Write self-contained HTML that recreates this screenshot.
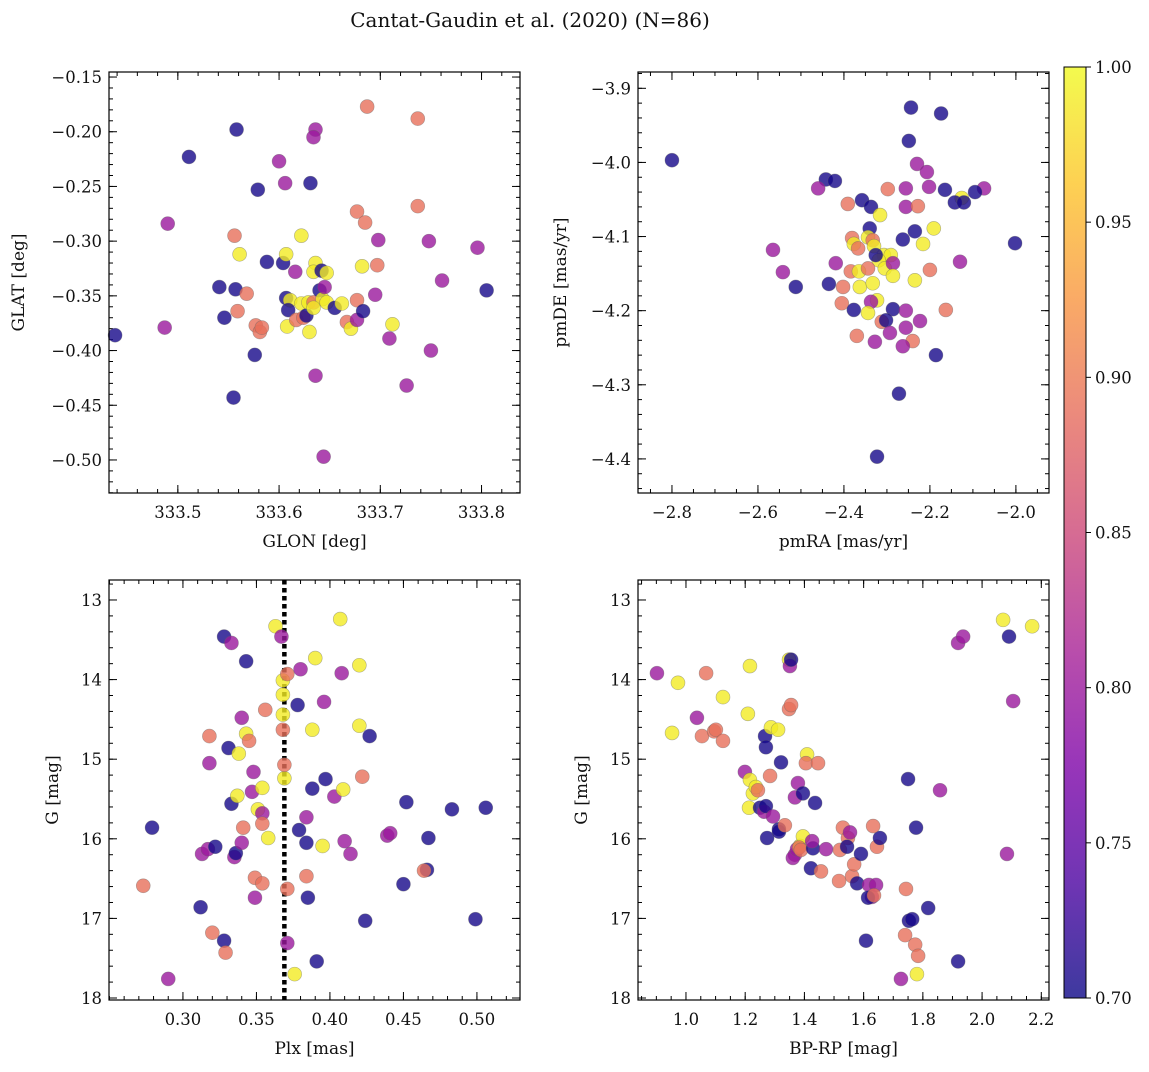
<!DOCTYPE html>
<html><head><meta charset="utf-8"><style>
html,body{margin:0;padding:0;background:#fff}
svg text{font-family:"DejaVu Serif","Liberation Serif",serif;fill:#111}
</style></head><body>
<svg id="fig" width="1149" height="1067" viewBox="0 0 1149 1067" xmlns="http://www.w3.org/2000/svg">
<defs>
<linearGradient id="plasma" x1="0" y1="1" x2="0" y2="0">
<stop offset="0" stop-color="#0d0887"/><stop offset="0.125" stop-color="#4c02a1"/><stop offset="0.25" stop-color="#7e03a8"/><stop offset="0.375" stop-color="#a82296"/><stop offset="0.5" stop-color="#cc4778"/><stop offset="0.625" stop-color="#e66c5c"/><stop offset="0.75" stop-color="#f89540"/><stop offset="0.875" stop-color="#fdc527"/><stop offset="1" stop-color="#f0f921"/>
</linearGradient>
</defs>
<text x="530" y="27" text-anchor="middle" font-size="20">Cantat-Gaudin et al. (2020) (N=86)</text>
</svg>
<script>
const D=0.705,P=0.80,S=0.89,Y=0.99;
const p1glon=[333.511,333.558,333.490,333.579,333.600,333.606,333.636,333.634,333.631,333.687,333.737,333.677,333.737,333.685,333.698,333.748,333.796,333.761,333.805,333.438,333.487,333.541,333.546,333.557,333.556,333.561,333.568,333.559,333.588,333.576,333.577,333.581,333.583,333.555,333.604,333.607,333.616,333.622,333.607,333.611,333.609,333.608,333.617,333.622,333.624,333.627,333.629,333.630,333.634,333.636,333.634,333.642,333.647,333.640,333.643,333.645,333.647,333.634,333.655,333.662,333.667,333.671,333.677,333.677,333.683,333.636,333.644,333.682,333.697,333.695,333.709,333.712,333.726,333.750];
const p1glat=[-0.223,-0.198,-0.284,-0.253,-0.227,-0.247,-0.198,-0.205,-0.247,-0.177,-0.188,-0.273,-0.268,-0.283,-0.299,-0.300,-0.306,-0.336,-0.345,-0.386,-0.379,-0.342,-0.370,-0.344,-0.295,-0.312,-0.348,-0.364,-0.319,-0.404,-0.377,-0.383,-0.379,-0.443,-0.320,-0.312,-0.328,-0.295,-0.352,-0.354,-0.363,-0.378,-0.372,-0.357,-0.370,-0.368,-0.356,-0.383,-0.356,-0.320,-0.328,-0.327,-0.329,-0.345,-0.353,-0.342,-0.356,-0.361,-0.361,-0.357,-0.374,-0.380,-0.372,-0.354,-0.364,-0.423,-0.497,-0.323,-0.322,-0.349,-0.389,-0.376,-0.432,-0.400];
const p1prob=[D,D,P,D,P,P,P,P,D,S,S,S,S,S,P,P,P,P,D,D,P,D,D,D,S,Y,S,S,D,D,S,S,S,D,D,Y,P,Y,D,Y,D,Y,S,Y,S,D,Y,Y,S,Y,Y,D,Y,D,Y,P,Y,Y,D,Y,S,Y,P,S,D,P,P,Y,S,P,P,Y,P,P];

const p2pmra=[-2.800,-2.244,-2.174,-2.249,-2.442,-2.421,-2.460,-2.230,-2.207,-2.256,-2.202,-2.074,-2.165,-2.095,-2.126,-2.142,-2.121,-2.358,-2.337,-2.298,-2.391,-2.256,-2.228,-2.316,-2.340,-2.235,-2.191,-2.263,-2.216,-2.002,-2.565,-2.381,-2.377,-2.367,-2.344,-2.333,-2.330,-2.307,-2.291,-2.319,-2.305,-2.286,-2.326,-2.419,-2.130,-2.542,-2.384,-2.365,-2.344,-2.286,-2.200,-2.512,-2.435,-2.402,-2.363,-2.333,-2.235,-2.323,-2.405,-2.337,-2.286,-2.377,-2.344,-2.256,-2.163,-2.312,-2.302,-2.223,-2.256,-2.293,-2.370,-2.240,-2.328,-2.263,-2.186,-2.272,-2.323];
const p2pmde=[-3.997,-3.926,-3.934,-3.971,-4.023,-4.025,-4.035,-4.002,-4.013,-4.035,-4.033,-4.035,-4.037,-4.040,-4.048,-4.054,-4.054,-4.051,-4.060,-4.036,-4.056,-4.060,-4.059,-4.071,-4.089,-4.093,-4.089,-4.104,-4.110,-4.109,-4.118,-4.102,-4.110,-4.116,-4.101,-4.105,-4.113,-4.125,-4.125,-4.132,-4.143,-4.136,-4.125,-4.136,-4.134,-4.148,-4.147,-4.147,-4.143,-4.153,-4.145,-4.168,-4.164,-4.168,-4.168,-4.163,-4.159,-4.186,-4.190,-4.188,-4.198,-4.199,-4.203,-4.200,-4.199,-4.215,-4.213,-4.214,-4.223,-4.230,-4.234,-4.241,-4.242,-4.248,-4.260,-4.312,-4.397];
const p2prob=[D,D,D,D,D,D,P,P,P,P,P,P,D,D,Y,D,D,D,D,S,S,P,S,Y,D,D,Y,D,Y,D,P,S,Y,S,Y,S,Y,Y,Y,Y,Y,P,D,P,P,P,S,Y,S,Y,S,D,D,S,Y,Y,Y,Y,S,P,D,D,Y,P,S,S,D,P,P,P,S,S,P,P,D,D,D];

const p3plx=[0.273,0.279,0.290,0.312,0.313,0.317,0.322,0.318,0.318,0.320,0.328,0.328,0.329,0.333,0.331,0.333,0.335,0.336,0.338,0.337,0.340,0.340,0.341,0.343,0.343,0.345,0.347,0.348,0.349,0.349,0.351,0.354,0.354,0.354,0.354,0.356,0.358,0.363,0.367,0.368,0.368,0.368,0.368,0.369,0.369,0.371,0.371,0.371,0.376,0.378,0.379,0.380,0.384,0.384,0.384,0.385,0.388,0.388,0.390,0.391,0.395,0.396,0.397,0.403,0.407,0.408,0.409,0.410,0.414,0.420,0.420,0.422,0.424,0.427,0.439,0.441,0.450,0.452,0.466,0.464,0.467,0.483,0.499,0.506];
const p3g=[16.59,15.86,17.76,16.86,16.19,16.13,16.10,15.05,14.71,17.18,13.46,17.28,17.43,13.54,14.86,15.56,16.23,16.18,14.93,15.46,14.48,16.05,15.86,13.77,14.68,14.77,15.41,15.16,16.49,16.74,15.63,16.56,15.68,15.36,15.81,14.38,15.99,13.33,13.46,14.01,14.19,14.44,14.63,15.24,15.07,13.93,16.63,17.31,17.70,14.32,15.89,13.87,16.05,15.73,16.47,16.74,15.37,14.63,13.73,17.54,16.09,14.28,15.25,15.47,13.24,13.92,15.38,16.03,16.19,13.82,14.58,15.22,17.03,14.71,15.96,15.93,16.57,15.54,16.39,16.40,15.99,15.63,17.01,15.61];
const p3prob=[S,D,P,D,P,P,D,P,S,S,D,D,S,P,D,D,P,D,Y,Y,P,P,S,D,Y,S,P,P,S,P,Y,S,P,Y,S,S,Y,Y,P,Y,Y,Y,S,Y,S,S,S,P,Y,D,D,P,D,P,S,D,D,Y,Y,D,Y,P,D,P,Y,P,Y,P,P,Y,Y,S,D,D,P,P,D,D,D,S,D,D,D,D];
const plxCut=[0.369];

const p4bprp=[0.902,0.973,0.953,1.037,1.054,1.068,1.095,1.101,1.125,1.125,1.199,1.209,1.216,1.216,1.213,1.226,1.236,1.243,1.250,1.264,1.270,1.267,1.270,1.274,1.284,1.294,1.287,1.311,1.314,1.314,1.321,1.334,1.348,1.355,1.348,1.351,1.355,1.368,1.361,1.368,1.375,1.378,1.395,1.385,1.395,1.382,1.388,1.409,1.405,1.429,1.436,1.446,1.422,1.426,1.456,1.473,1.520,1.530,1.547,1.544,1.554,1.561,1.517,1.568,1.578,1.591,1.608,1.618,1.628,1.642,1.615,1.635,1.645,1.655,1.632,1.743,1.740,1.753,1.764,1.774,1.784,1.780,1.726,1.750,1.777,1.818,1.858,1.919,1.919,1.936,2.071,2.091,2.105,2.084,2.169];
const p4g=[13.92,14.04,14.67,14.48,14.71,13.92,14.65,14.63,14.77,14.22,15.16,14.43,13.83,15.26,15.61,15.43,15.35,15.39,15.61,15.66,15.59,14.71,14.85,15.99,15.21,15.72,14.60,14.63,15.88,15.91,15.04,15.83,14.37,14.32,13.75,13.83,13.75,16.20,16.24,15.48,16.13,15.30,15.43,16.09,15.97,16.11,16.14,14.94,15.05,16.12,15.55,15.05,16.37,16.03,16.41,16.13,16.14,15.86,15.99,16.10,15.92,16.47,16.53,16.32,16.56,16.19,17.28,16.58,16.73,16.58,16.74,16.71,16.10,15.99,15.84,16.63,17.21,17.03,17.01,17.33,17.47,17.70,17.76,15.25,15.86,16.87,15.39,17.54,13.54,13.46,13.25,13.46,14.27,16.19,13.33];
const p4prob=[P,Y,Y,P,S,S,S,S,S,Y,P,Y,Y,Y,Y,Y,Y,S,D,P,D,D,D,D,S,P,Y,Y,D,D,D,S,S,S,Y,P,D,P,P,P,P,P,D,Y,Y,S,S,Y,S,D,D,S,D,P,S,P,S,S,S,D,P,S,S,S,D,D,D,P,P,P,D,S,S,D,S,S,S,D,D,S,S,Y,P,D,D,D,P,D,P,P,Y,D,P,P,Y];

const cbarTicks=["0.70","0.75","0.80","0.85","0.90","0.95","1.00"];

const NS="http://www.w3.org/2000/svg";
const svg=document.getElementById('fig');
function mk(tag,attrs,parent){const e=document.createElementNS(NS,tag);for(const k in attrs)e.setAttribute(k,attrs[k]);(parent||svg).appendChild(e);return e;}
const stops=[[0,[13,8,135]],[0.125,[76,2,161]],[0.25,[126,3,168]],[0.375,[168,34,150]],[0.5,[204,71,120]],[0.625,[230,108,92]],[0.75,[248,149,64]],[0.875,[253,197,39]],[1,[240,249,33]]];
function cmap(p){let t=Math.max(0,Math.min(1,(p-0.7)/0.3));for(let i=1;i<stops.length;i++){if(t<=stops[i][0]){const a=stops[i-1],b=stops[i];const f=(t-a[0])/(b[0]-a[0]);const c=a[1].map((v,j)=>Math.round(v+(b[1][j]-v)*f));return `rgb(${c[0]},${c[1]},${c[2]})`;}}return 'rgb(240,249,33)';}
function fmt(v,d){return (v<0?'\u2212':'')+Math.abs(v).toFixed(d);}

function panel(cfg){
  const g=mk('g',{});
  
  
  const {L,R,T,B,x0,x1,y0,y1}=cfg;
  const sx=v=>L+(v-x0)/(x1-x0)*(R-L);
  const sy=v=>T+(v-y0)/(y1-y0)*(B-T);
  const ticks=(a,b,step)=>{const out=[];const s=Math.ceil(Math.min(a,b)/step-1e-6),e=Math.floor(Math.max(a,b)/step+1e-6);for(let i=s;i<=e;i++)out.push(i*step);return out;};
  const tg=mk('g',{stroke:'#000','stroke-width':1},g);
  ticks(x0,x1,cfg.xmin).forEach(v=>{const x=sx(v);mk('line',{x1:x,x2:x,y1:B,y2:B-4},tg);mk('line',{x1:x,x2:x,y1:T,y2:T+4},tg);});
  ticks(y0,y1,cfg.ymin).forEach(v=>{const y=sy(v);mk('line',{x1:L,x2:L+4,y1:y,y2:y},tg);mk('line',{x1:R,x2:R-4,y1:y,y2:y},tg);});
  ticks(x0,x1,cfg.xmaj).forEach(v=>{const x=sx(v);if(x<L+3||x>R-3)return;mk('line',{x1:x,x2:x,y1:B,y2:B-8},tg);mk('line',{x1:x,x2:x,y1:T,y2:T+8},tg);
    const t=mk('text',{x:x,y:B+25,'text-anchor':'middle','font-size':16.5},g);t.textContent=fmt(v,cfg.xd);
    });
  ticks(y0,y1,cfg.ymaj).forEach(v=>{const y=sy(v);mk('line',{x1:L,x2:L+8,y1:y,y2:y},tg);mk('line',{x1:R,x2:R-8,y1:y,y2:y},tg);
    const t=mk('text',{x:L-7,y:y+6,'text-anchor':'end','font-size':16.5},g);t.textContent=fmt(v,cfg.yd);
    });
  if(cfg.vline){const x=sx(cfg.vline[0]);const l=mk('line',{x1:x,x2:x,y1:T,y2:B,stroke:'#000','stroke-width':4.5,'stroke-dasharray':'4.5 3.5'},g);
    }
  const pg=mk('g',{},g);
  cfg.xs.forEach((v,i)=>{const c=mk('circle',{cx:sx(v),cy:sy(cfg.ys[i]),r:7,fill:cmap(cfg.ps[i]),'fill-opacity':0.8,stroke:'#666','stroke-opacity':0.5,'stroke-width':0.6},pg);
    });
  const fr=mk('rect',{x:L,y:T,width:R-L,height:B-T,fill:'none',stroke:'#000','stroke-width':1.2},g);
  
  const xl=mk('text',{x:(L+R)/2,y:B+54,'text-anchor':'middle','font-size':17},g);xl.textContent=cfg.xlabel;
  
  const yl=mk('text',{x:0,y:0,'text-anchor':'middle','font-size':17,transform:`translate(${cfg.ylx},${(T+B)/2}) rotate(-90)`},g);yl.textContent=cfg.ylabel;
  
}
panel({name:'glon-glat-panel',L:109,R:520,T:72,B:493,x0:333.432,x1:333.838,y0:-0.1454,y1:-0.5302,xmaj:0.1,xmin:0.02,ymaj:0.05,ymin:0.01,xd:1,yd:2,xs:p1glon,ys:p1glat,ps:p1prob,xlabel:'GLON [deg]',ylabel:'GLAT [deg]',ylx:24});
panel({name:'proper-motion-panel',L:638,R:1049,T:72,B:493,x0:-2.879,x1:-1.923,y0:-3.878,y1:-4.446,xmaj:0.2,xmin:0.05,ymaj:0.1,ymin:0.02,xd:1,yd:1,xs:p2pmra,ys:p2pmde,ps:p2prob,xlabel:'pmRA [mas/yr]',ylabel:'pmDE [mas/yr]',ylx:566});
panel({name:'parallax-panel',L:109,R:520,T:580,B:1000,x0:0.2497,x1:0.5293,y0:12.749,y1:18.025,xmaj:0.05,xmin:0.01,ymaj:1,ymin:0.2,xd:2,yd:0,xs:p3plx,ys:p3g,ps:p3prob,xlabel:'Plx [mas]',ylabel:'G [mag]',ylx:58,vline:plxCut});
panel({name:'cmd-panel',L:638,R:1049,T:580,B:1000,x0:0.838,x1:2.226,y0:12.749,y1:18.025,xmaj:0.2,xmin:0.05,ymaj:1,ymin:0.2,xd:1,yd:0,xs:p4bprp,ys:p4g,ps:p4prob,xlabel:'BP-RP [mag]',ylabel:'G [mag]',ylx:587});

// colorbar
const cb=mk('g',{});


const cbT=67,cbB=998,cbL=1064,cbR=1086;
mk('rect',{x:cbL,y:cbT,width:cbR-cbL,height:cbB-cbT,fill:'url(#plasma)','fill-opacity':0.8},cb);
mk('rect',{x:cbL,y:cbT,width:cbR-cbL,height:cbB-cbT,fill:'none',stroke:'#000','stroke-width':1},cb);
cbarTicks.forEach(s=>{const v=parseFloat(s);const y=cbB-(v-0.7)/0.3*(cbB-cbT);
  mk('line',{x1:cbR,x2:cbR+5,y1:y,y2:y,stroke:'#000'},cb);
  const t=mk('text',{x:cbR+9,y:y+6,'font-size':16.5},cb);t.textContent=s;
  });
</script>
</body></html>
